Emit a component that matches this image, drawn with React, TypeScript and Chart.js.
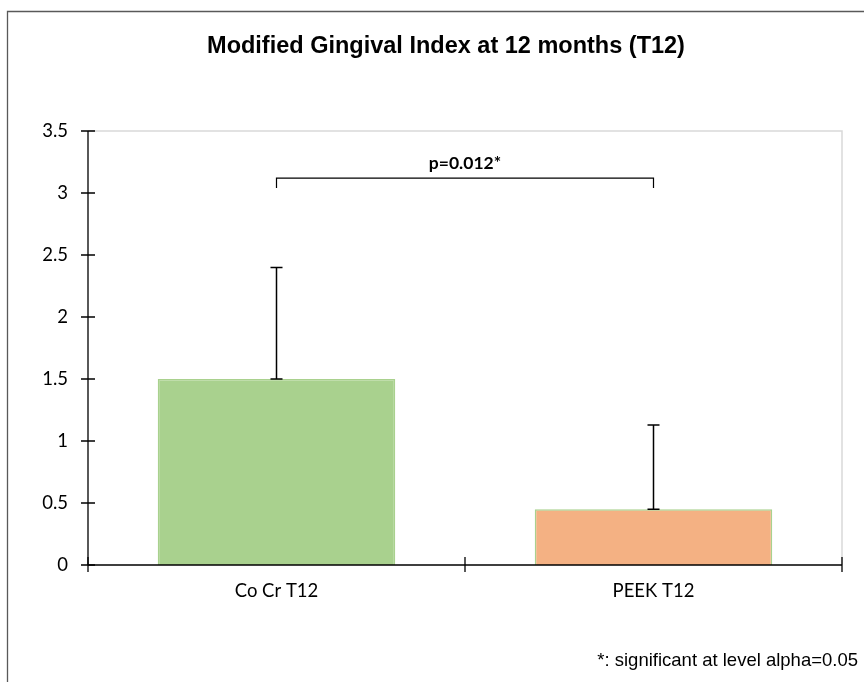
import React, { useEffect, useRef } from "react";
import { Chart, registerables } from "chart.js";

Chart.register(...registerables);

// Chart content
const chartTitle = "Modified Gingival Index at 12 months (T12)";
const categories = ["Co Cr T12", "PEEK T12"];
const means = [1.5, 0.45];
const errorTops = [2.4, 1.13];
const barColors = ["#A9D18E", "#F4B183"];
const yMin = 0;
const yMax = 3.5;
const yStep = 0.5;
const pValueLabel = "p=0.012*";
const bracketLevel = 3.12;
const footnote = "*: significant at level alpha=0.05";

const TICK_FONT = "Lato, 'Noto Sans', sans-serif";

// Draws the outer frame, title, footnote, axis lines with crossing ticks,
// error bars and the significance bracket.
const decorations = {
  id: "decorations",
  beforeDraw(chart: any) {
    const { ctx } = chart;
    ctx.save();
    ctx.fillStyle = "#ffffff";
    ctx.fillRect(0, 0, chart.width, chart.height);
    ctx.strokeStyle = "#595959";
    ctx.lineWidth = 1.3;
    ctx.beginPath();
    ctx.moveTo(7.5, chart.height + 5);
    ctx.lineTo(7.5, 11.5);
    ctx.lineTo(chart.width + 5, 11.5);
    ctx.stroke();

    ctx.fillStyle = "#000000";
    ctx.font = "bold 23.5px 'Liberation Sans', Arial, sans-serif";
    ctx.textAlign = "center";
    ctx.textBaseline = "middle";
    ctx.fillText(chartTitle, 446, 47);

    ctx.font = "18.5px 'Liberation Sans', Arial, sans-serif";
    ctx.textAlign = "right";
    ctx.fillText(footnote, 858, 661);
    ctx.restore();
  },
  afterDatasetsDraw(chart: any) {
    const { ctx, chartArea } = chart;
    const x = chart.scales.x;
    const y = chart.scales.y;
    ctx.save();

    // plot area outline (top and right)
    ctx.strokeStyle = "#D9D9D9";
    ctx.lineWidth = 1.5;
    ctx.beginPath();
    ctx.moveTo(chartArea.left, chartArea.top);
    ctx.lineTo(chartArea.right, chartArea.top);
    ctx.lineTo(chartArea.right, chartArea.bottom);
    ctx.stroke();

    ctx.strokeStyle = "#000000";
    ctx.lineWidth = 1.3;
    // value axis
    ctx.beginPath();
    ctx.moveTo(chartArea.left, chartArea.top);
    ctx.lineTo(chartArea.left, chartArea.bottom);
    for (let v = yMin; v <= yMax + 1e-9; v += yStep) {
      const py = y.getPixelForValue(v);
      ctx.moveTo(chartArea.left - 7, py);
      ctx.lineTo(chartArea.left + 7, py);
    }
    ctx.stroke();

    // category axis
    ctx.beginPath();
    ctx.moveTo(chartArea.left, chartArea.bottom);
    ctx.lineTo(chartArea.right, chartArea.bottom);
    for (let i = 0; i <= categories.length; i++) {
      const px = x.getPixelForValue(i - 0.5);
      ctx.moveTo(px, chartArea.bottom - 8);
      ctx.lineTo(px, chartArea.bottom + 7);
    }
    ctx.stroke();

    // error bars (upper only)
    ctx.lineWidth = 1.5;
    ctx.beginPath();
    means.forEach((m, i) => {
      const px = x.getPixelForValue(i);
      const yb = y.getPixelForValue(m);
      const yt = y.getPixelForValue(errorTops[i]);
      ctx.moveTo(px, yb);
      ctx.lineTo(px, yt);
      ctx.moveTo(px - 6, yt);
      ctx.lineTo(px + 6, yt);
      ctx.moveTo(px - 6, yb);
      ctx.lineTo(px + 6, yb);
    });
    ctx.stroke();

    // significance bracket
    const x0 = x.getPixelForValue(0);
    const x1 = x.getPixelForValue(1);
    const yb = y.getPixelForValue(bracketLevel);
    ctx.lineWidth = 1.2;
    ctx.beginPath();
    ctx.moveTo(x0, yb + 10);
    ctx.lineTo(x0, yb);
    ctx.lineTo(x1, yb);
    ctx.lineTo(x1, yb + 10);
    ctx.stroke();

    ctx.fillStyle = "#000000";
    ctx.font = `bold 17.5px ${TICK_FONT}`;
    ctx.textAlign = "center";
    ctx.textBaseline = "middle";
    ctx.fillText(pValueLabel, (x0 + x1) / 2, yb - 15);
    ctx.restore();
  },
};

export default function App() {
  const canvasRef = useRef<HTMLCanvasElement | null>(null);

  useEffect(() => {
    if (!canvasRef.current) return;
    const chart = new Chart(canvasRef.current, {
      type: "bar",
      data: {
        labels: categories,
        datasets: [
          {
            data: means,
            backgroundColor: barColors,
            borderColor: "#A9D18E",
            borderWidth: 1.5,
            categoryPercentage: 0.63,
            barPercentage: 1,
          },
        ],
      },
      options: {
        responsive: false,
        animation: false,
        devicePixelRatio: 1,
        layout: { padding: { left: 0, right: 22, top: 131, bottom: 0 } },
        plugins: {
          legend: { display: false },
          title: { display: false },
          tooltip: { enabled: false },
        },
        scales: {
          x: {
            grid: { display: false, drawTicks: false },
            border: { display: false },
            ticks: {
              color: "#000000",
              padding: 15,
              font: { family: TICK_FONT, size: 18.5 },
            },
            afterFit(scale: any) {
              scale.height = 117;
            },
          },
          y: {
            min: yMin,
            max: yMax,
            grid: { display: false, drawTicks: false },
            border: { display: false },
            ticks: {
              stepSize: yStep,
              color: "#000000",
              padding: 20,
              font: { family: TICK_FONT, size: 18.5 },
              callback: (v: any) => String(v),
            },
            afterFit(scale: any) {
              scale.width = 88;
            },
          },
        },
      },
      plugins: [decorations],
    });
    return () => chart.destroy();
  }, []);

  return (
    <div style={{ position: "absolute", left: 0, top: 0, width: 864, height: 682 }}>
      <canvas ref={canvasRef} width={864} height={682} />
    </div>
  );
}
